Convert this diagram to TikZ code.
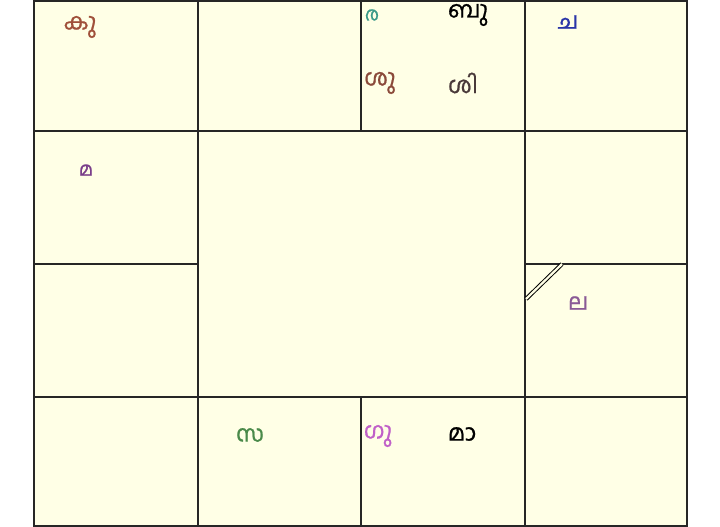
\documentclass[tikz,border=0pt]{standalone}
\usepackage{fontspec}
\newfontfamily\mlfont[Script=Malayalam,FakeBold=0.8]{Hind Kochi}
\definecolor{cellbg}{HTML}{FFFFE6}
\definecolor{kucol}{HTML}{A0503A}
\definecolor{macol}{HTML}{7A3E8A}
\definecolor{racol}{HTML}{3A9A88}
\definecolor{shucol}{HTML}{8B4A3A}
\definecolor{shicol}{HTML}{4A3A3A}
\definecolor{chacol}{HTML}{2A35A8}
\definecolor{lacol}{HTML}{8A5A96}
\definecolor{sacol}{HTML}{4A8A4A}
\definecolor{gucol}{HTML}{C060C8}
\tikzset{
  grid/.style={draw=black!85, line width=1.6pt},
  lbl/.style={font=\mlfont\fontsize{23}{27}\selectfont, inner sep=0pt},
  smalllbl/.style={font=\mlfont\fontsize{19}{22}\selectfont, inner sep=0pt},
}
\begin{document}
\begin{tikzpicture}[x=1pt,y=-1pt]
\useasboundingbox (0,0) rectangle (720,527);
\fill[white] (0,0) rectangle (720,527);
\fill[cellbg] (34,1) rectangle (687,526);
% outer frame
\draw[grid] (34,1) rectangle (687,526);
% horizontal lines
\draw[grid] (34,131) -- (687,131);
\draw[grid] (34,397) -- (687,397);
\draw[grid] (34,264) -- (198,264);
\draw[grid] (525,264) -- (687,264);
% vertical lines
\draw[grid] (198,1) -- (198,526);
\draw[grid] (525,1) -- (525,526);
\draw[grid] (361,1) -- (361,131);
\draw[grid] (361,397) -- (361,526);
% lagna marker
\coordinate (m1) at (526,299);
\coordinate (m2) at (562,264);
\draw[double=cellbg, double distance=2.2pt, line width=1pt] (m1) -- (m2);
% labels
\node[lbl, text=kucol] (ku) at (80,27) {കു};
\node[smalllbl, text=macol] (ma) at (86,170) {മ};
\node[smalllbl, text=racol] (ra) at (372,15) {ര};
\node[lbl, text=black] (bu) at (468,15) {ബു};
\node[lbl, text=shucol] (shu) at (380,83) {ശു};
\node[lbl, text=shicol] (shi) at (463,83) {ശി};
\node[lbl, text=chacol] (cha) at (568,22) {ച};
\node[lbl, text=lacol] (la) at (578,303) {ല};
\node[lbl, text=sacol] (sa) at (250,435) {സ};
\node[lbl, text=gucol] (gu) at (378,436) {ഗു};
\node[lbl, text=black] (maa) at (462,434) {മാ};
\end{tikzpicture}
\end{document}
